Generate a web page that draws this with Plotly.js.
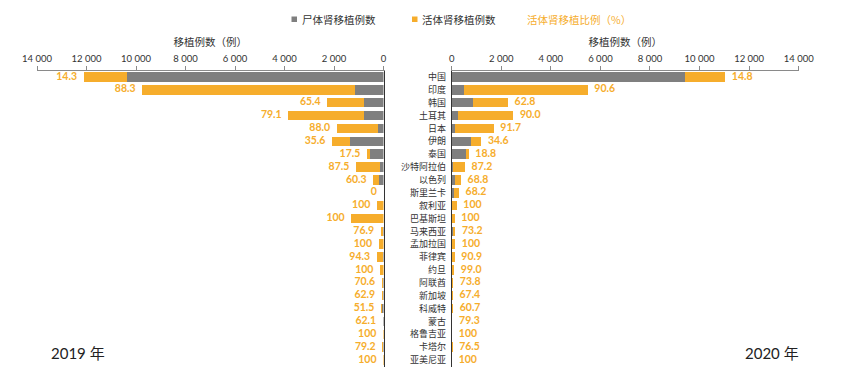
<!DOCTYPE html>
<html>
<head>
<meta charset="utf-8">
<script src="https://cdn.plot.ly/plotly-3.0.1.min.js"></script>
<style>html,body{margin:0;padding:0;background:#fff}#chart{width:865px;height:371px}</style>
</head>
<body>
<div id="chart"></div>
<script>
var categories = ['中国','印度','韩国','土耳其','日本','伊朗','泰国','沙特阿拉伯','以色列','斯里兰卡','叙利亚','巴基斯坦','马来西亚','孟加拉国','菲律宾','约旦','阿联酋','新加坡','科威特','蒙古','格鲁吉亚','卡塔尔','亚美尼亚'];

var deceased2019 = [10380, 1140, 788, 804, 227, 1340, 550, 139, 164, 0, 0, 0, 26, 0, 16, 0, 20, 26, 48, 11, 0, 10, 0];
var living2019   = [1735, 8610, 1482, 3042, 1663, 740, 117, 972, 248, 0, 263, 1300, 87, 194, 259, 140, 48, 44, 51, 18, 20, 38, 15];
var ratio2019    = ['14.3','88.3','65.4','79.1','88.0','35.6','17.5','87.5','60.3','0','100','100','76.9','100','94.3','100','70.6','62.9','51.5','62.1','100','79.2','100'];

var deceased2020 = [9400, 516, 845, 249, 141, 782, 557, 69, 117, 94, 0, 0, 39, 0, 11, 1, 16, 15, 22, 6, 0, 8, 0];
var living2020   = [1635, 4970, 1427, 2237, 1554, 413, 129, 468, 258, 201, 202, 121, 106, 140, 110, 99, 45, 31, 34, 23, 20, 26, 15];
var ratio2020    = ['14.8','90.6','62.8','90.0','91.7','34.6','18.8','87.2','68.8','68.2','100','100','73.2','100','90.9','99.0','73.8','67.4','60.7','79.3','100','76.5','100'];

var tickValues = [0, 2000, 4000, 6000, 8000, 10000, 12000, 14000];
var tickLabels = ['0', '2 000', '4 000', '6 000', '8 000', '10 000', '12 000', '14 000'];

var legendLabels = ['尸体肾移植例数', '活体肾移植例数', '活体肾移植比例（%）'];
var axisTitle = '移植例数（例）';
var yearLabels = ['2019 年', '2020 年'];

var GRAY = '#7f7f7f', ORANGE = '#f6ad2c';
var CJK = '"Noto Sans CJK SC", sans-serif';
var NUM = 'Lato, "Noto Sans CJK SC", sans-serif';
var W = 865, H = 371;
function px(x){return x / W;}
function py(y){return 1 - y / H;}

function sum(a, b){return a.map(function(v, i){return v + b[i];});}
var total2019 = sum(deceased2019, living2019);
var total2020 = sum(deceased2020, living2020);

var labelMarker = {size:9, color:'rgba(0,0,0,0)'};
var traces = [
  {type:'bar', orientation:'h', x:deceased2019, y:categories, xaxis:'x', yaxis:'y', marker:{color:GRAY}, name:legendLabels[0], showlegend:false, hoverinfo:'x+y'},
  {type:'bar', orientation:'h', x:living2019, y:categories, xaxis:'x', yaxis:'y', marker:{color:ORANGE}, name:legendLabels[1], showlegend:false, hoverinfo:'x+y'},
  {type:'scatter', mode:'markers+text', x:total2019, y:categories, text:ratio2019, xaxis:'x', yaxis:'y', marker:labelMarker, textposition:'middle left', textfont:{family:NUM, size:10.5, color:ORANGE, weight:700}, cliponaxis:false, showlegend:false, hoverinfo:'skip'},
  {type:'bar', orientation:'h', x:deceased2020, y:categories, xaxis:'x2', yaxis:'y2', marker:{color:GRAY}, name:legendLabels[0], showlegend:false, hoverinfo:'x+y'},
  {type:'bar', orientation:'h', x:living2020, y:categories, xaxis:'x2', yaxis:'y2', marker:{color:ORANGE}, name:legendLabels[1], showlegend:false, hoverinfo:'x+y'},
  {type:'scatter', mode:'markers+text', x:total2020, y:categories, text:ratio2020, xaxis:'x2', yaxis:'y2', marker:labelMarker, textposition:'middle right', textfont:{family:NUM, size:10.5, color:ORANGE, weight:700}, cliponaxis:false, showlegend:false, hoverinfo:'skip'}
];

var yDomain = [py(366.5), py(70.5)];
var yRange = [categories.length - 0.5, -0.5];
var xCommon = {
  side:'top', tickvals:tickValues, ticktext:tickLabels, ticks:'outside', ticklen:4, tickcolor:'#8a8a8a',
  showline:true, linecolor:'#8a8a8a', linewidth:1, showgrid:false, zeroline:false,
  tickfont:{family:NUM, size:9.5, color:'#333'}, fixedrange:true,
  title:{text:axisTitle, font:{family:CJK, size:10.5, color:'#333'}, standoff:4}
};
var layout = {
  width:W, height:H, margin:{l:0, r:0, t:0, b:0}, paper_bgcolor:'#fff', plot_bgcolor:'#fff',
  barmode:'stack', bargap:0.26, showlegend:false,
  font:{family:CJK, color:'#333'},
  xaxis:Object.assign({}, xCommon, {domain:[px(37), px(383.5)], range:[14000, 0], anchor:'y'}),
  xaxis2:Object.assign({}, xCommon, {domain:[px(451.7), px(798.7)], range:[0, 14000], anchor:'y2'}),
  yaxis:{domain:yDomain, anchor:'x', side:'right', range:yRange, showticklabels:false, ticks:'', showline:true, linecolor:'#333', showgrid:false, zeroline:false, fixedrange:true},
  yaxis2:{domain:yDomain, anchor:'x2', side:'left', range:yRange, showticklabels:true, ticks:'', showline:true, linecolor:'#333', showgrid:false, zeroline:false, fixedrange:true, tickfont:{family:CJK, size:9, color:'#333'}, ticklabelstandoff:3},
  shapes:[
    {type:'rect', xref:'paper', yref:'paper', x0:px(291.5), x1:px(297), y0:py(22), y1:py(16.5), fillcolor:GRAY, line:{width:0}},
    {type:'rect', xref:'paper', yref:'paper', x0:px(412), x1:px(417.5), y0:py(22), y1:py(16.5), fillcolor:ORANGE, line:{width:0}}
  ],
  annotations:[
    {xref:'paper', yref:'paper', x:px(300), y:py(19.3), xanchor:'left', yanchor:'middle', text:legendLabels[0], showarrow:false, font:{family:CJK, size:10.5, color:'#333'}},
    {xref:'paper', yref:'paper', x:px(420), y:py(19.3), xanchor:'left', yanchor:'middle', text:legendLabels[1], showarrow:false, font:{family:CJK, size:10.5, color:'#333'}},
    {xref:'paper', yref:'paper', x:px(525), y:py(19.3), xanchor:'left', yanchor:'middle', text:legendLabels[2], showarrow:false, font:{family:CJK, size:10.5, color:ORANGE}},
    {xref:'paper', yref:'paper', x:px(49), y:py(353), xanchor:'left', yanchor:'middle', text:yearLabels[0], showarrow:false, font:{family:NUM, size:15, color:'#222'}},
    {xref:'paper', yref:'paper', x:px(801), y:py(353), xanchor:'right', yanchor:'middle', text:yearLabels[1], showarrow:false, font:{family:NUM, size:15, color:'#222'}}
  ]
};
Plotly.newPlot('chart', traces, layout, {displayModeBar:false, staticPlot:true});
</script>
</body>
</html>
